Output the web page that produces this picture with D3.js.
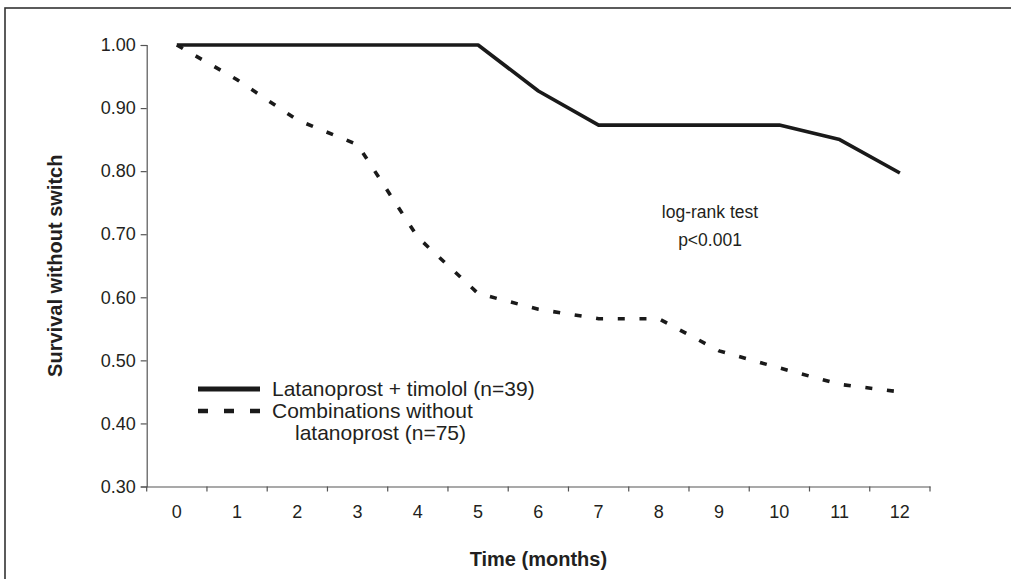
<!DOCTYPE html>
<html>
<head>
<meta charset="utf-8">
<script src="https://cdn.jsdelivr.net/npm/d3@7"></script>
<style>
  body { margin: 0; background: #fff; }
  text { font-family: "Liberation Sans", Arial, Helvetica, sans-serif; fill: #231f20; }
</style>
</head>
<body>
<script>
// months on the x axis
var months = [0, 1, 2, 3, 4, 5, 6, 7, 8, 9, 10, 11, 12];
// survival without switch
var latTimolol = [1.00, 1.00, 1.00, 1.00, 1.00, 1.00, 0.927, 0.873, 0.873, 0.873, 0.873, 0.850, 0.797];
var combos     = [1.00, 0.945, 0.881, 0.842, 0.695, 0.606, 0.581, 0.566, 0.566, 0.515, 0.488, 0.462, 0.450];
var yTicks = [0.30, 0.40, 0.50, 0.60, 0.70, 0.80, 0.90, 1.00];
var legendLabels = ["Latanoprost + timolol (n=39)", "Combinations without", "latanoprost (n=75)"];

var W = 1011, H = 579;
var margin = {top: 45, right: 81, bottom: 92.5, left: 146.7};

var svg = d3.select("body").append("svg")
    .attr("width", W)
    .attr("height", H);

// outer frame (runs off the right and bottom edges)
svg.append("rect")
    .attr("x", 5).attr("y", 8)
    .attr("width", W + 20).attr("height", H + 20)
    .attr("fill", "none")
    .attr("stroke", "#333")
    .attr("stroke-width", 1.6);

var x = d3.scaleBand()
    .domain(months)
    .range([margin.left, W - margin.right])
    .padding(0);

var y = d3.scaleLinear()
    .domain([0.3, 1.0])
    .range([H - margin.bottom, margin.top]);

var cx = function(m) { return x(m) + x.bandwidth() / 2; };

// y axis
var yAxis = svg.append("g")
    .attr("transform", "translate(" + margin.left + ",0)")
    .call(d3.axisLeft(y).tickValues(yTicks).tickFormat(d3.format(".2f")).tickSize(6).tickPadding(5));
yAxis.select(".domain").attr("stroke", "#555").attr("stroke-width", 1.2);
yAxis.selectAll(".tick line").attr("stroke", "#555").attr("stroke-width", 1.2);
yAxis.selectAll(".tick text")
    .style("font-family", "'Liberation Sans', Arial, sans-serif")
    .style("font-size", "18px")
    .attr("fill", "#231f20");

// x axis: labels centred in bands, tick marks on band edges
var xAxis = svg.append("g")
    .attr("transform", "translate(0," + y(0.3) + ")")
    .call(d3.axisBottom(x).tickSize(0).tickPadding(19));
xAxis.select(".domain").attr("stroke", "#555").attr("stroke-width", 1.2);
xAxis.selectAll(".tick text")
    .style("font-family", "'Liberation Sans', Arial, sans-serif")
    .style("font-size", "18px")
    .attr("fill", "#231f20");

var edges = months.map(function(m) { return x(m); }).concat([x.range()[1]]);
xAxis.selectAll("line.edge")
    .data(edges)
  .enter().append("line")
    .attr("class", "edge")
    .attr("x1", function(d) { return d; })
    .attr("x2", function(d) { return d; })
    .attr("y1", 0)
    .attr("y2", 5)
    .attr("stroke", "#555")
    .attr("stroke-width", 1.2);

// curves
var line = d3.line()
    .x(function(d, i) { return cx(months[i]); })
    .y(function(d) { return y(d); });

svg.append("path")
    .datum(combos)
    .attr("d", line)
    .attr("fill", "none")
    .attr("stroke", "#1a1a1a")
    .attr("stroke-width", 3.6)
    .attr("stroke-dasharray", "7,14.7");

svg.append("path")
    .datum(latTimolol)
    .attr("d", line)
    .attr("fill", "none")
    .attr("stroke", "#1a1a1a")
    .attr("stroke-width", 3.6)
    .attr("stroke-linejoin", "round");

// axis titles
svg.append("text")
    .attr("x", (x.range()[0] + x.range()[1]) / 2)
    .attr("y", 566)
    .attr("text-anchor", "middle")
    .style("font-size", "20px")
    .style("font-weight", "bold")
    .text("Time (months)");

svg.append("text")
    .attr("transform", "translate(62," + (y(0.3) + y(1.0)) / 2 + ") rotate(-90)")
    .attr("text-anchor", "middle")
    .style("font-size", "20px")
    .style("font-weight", "bold")
    .text("Survival without switch");

// log-rank annotation
svg.append("text")
    .attr("x", 710).attr("y", 218)
    .attr("text-anchor", "middle")
    .style("font-size", "17.5px")
    .text("log-rank test");
svg.append("text")
    .attr("x", 710).attr("y", 246)
    .attr("text-anchor", "middle")
    .style("font-size", "17.5px")
    .text("p<0.001");

// legend
var lg = svg.append("g");
lg.append("line")
    .attr("x1", 198).attr("x2", 260)
    .attr("y1", 389).attr("y2", 389)
    .attr("stroke", "#1a1a1a")
    .attr("stroke-width", 5);
lg.append("line")
    .attr("x1", 198).attr("x2", 260)
    .attr("y1", 411).attr("y2", 411)
    .attr("stroke", "#1a1a1a")
    .attr("stroke-width", 4.5)
    .attr("stroke-dasharray", "10,16");

lg.selectAll("text")
    .data(legendLabels)
  .enter().append("text")
    .attr("x", function(d, i) { return i === 2 ? 295 : 272; })
    .attr("y", function(d, i) { return 396 + i * 22; })
    .style("font-size", "21px")
    .text(function(d) { return d; });
</script>
</body>
</html>
